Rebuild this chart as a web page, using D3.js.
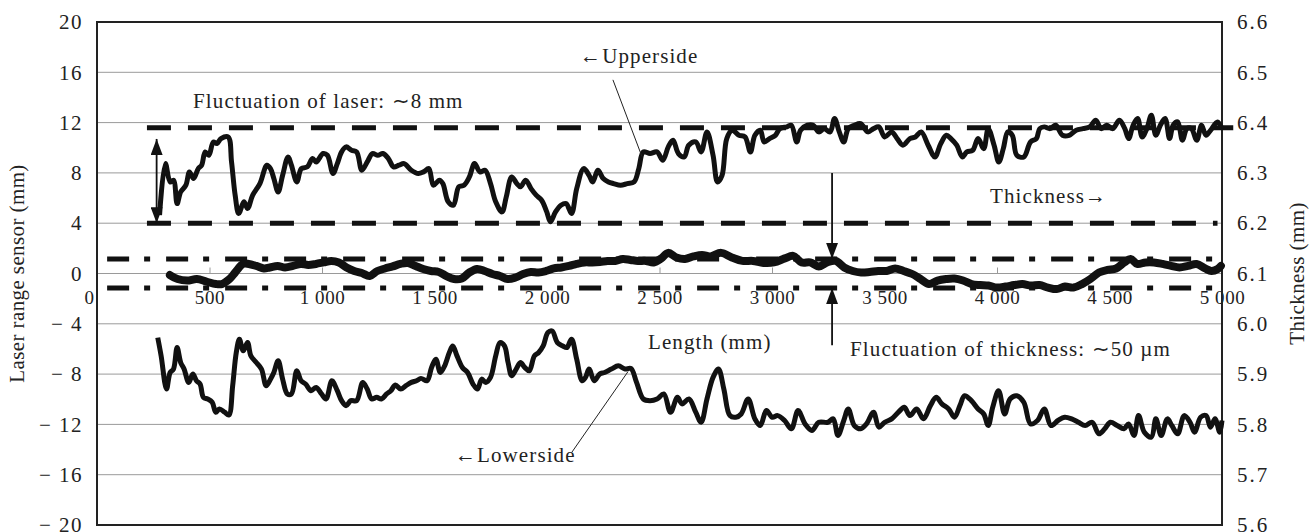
<!DOCTYPE html>
<html>
<head>
<meta charset="utf-8">
<script src="https://cdn.jsdelivr.net/npm/d3@7"></script>
<style>
body { margin: 0; background: #fff; }
text { font-family: "Liberation Serif", "Times New Roman", serif; fill: #222; }
</style>
</head>
<body>
<svg id="chart"></svg>
<script>
// length (mm) and laser reading (mm) of the upper sensor
var upperLength = [278,304,325,340,356,372,395,411,429,450,465,481,497,517,533,551,583,598,614,630,653,669,692,724,755,771,786,805,825,849,864,888,908,935,958,974,1005,1024,1049,1068,1087,1107,1131,1154,1177,1201,1224,1248,1271,1295,1318,1342,1365,1397,1428,1451,1475,1495,1522,1537,1561,1584,1608,1631,1655,1678,1702,1725,1749,1772,1800,1819,1843,1866,1882,1905,1929,1952,1976,1999,2015,2038,2062,2085,2109,2132,2163,2187,2203,2226,2250,2273,2296,2327,2357,2387,2408,2428,2458,2489,2515,2539,2560,2584,2610,2630,2661,2685,2711,2738,2758,2778,2799,2823,2853,2880,2904,2924,2948,2965,2989,3015,3035,3066,3086,3110,3127,3157,3183,3208,3232,3258,3278,3299,3319,3339,3366,3394,3426,3451,3475,3501,3532,3556,3582,3613,3637,3663,3694,3724,3750,3775,3795,3821,3846,3866,3892,3916,3941,3961,3987,4008,4028,4048,4068,4088,4119,4149,4175,4190,4210,4236,4261,4291,4321,4352,4382,4412,4439,4463,4487,4514,4544,4568,4585,4605,4625,4645,4666,4686,4706,4726,4747,4767,4783,4803,4824,4844,4864,4888,4909,4929,4949,4980,5000];
var upperValue = [4.64,8.74,7.28,7.42,5.56,6.49,7.02,8.08,7.55,8.34,8.61,9.67,9.40,10.46,10.33,10.73,10.86,8.87,6.23,4.77,5.70,5.17,6.23,7.15,8.61,8.34,7.55,6.49,7.81,9.27,8.61,7.28,8.34,8.48,9.14,8.87,9.54,9.40,7.95,8.74,9.67,10.07,9.80,9.67,8.21,8.87,9.54,9.40,9.54,9.14,8.48,8.61,8.74,8.21,7.95,8.08,8.34,7.02,7.42,7.15,5.70,5.43,6.89,7.02,7.68,8.74,8.08,8.21,7.15,5.70,4.90,6.09,7.68,7.15,6.89,7.42,6.75,6.23,5.83,4.90,4.11,4.90,5.43,5.56,4.77,6.75,8.34,7.81,7.28,8.21,7.55,7.28,7.15,7.02,7.15,7.28,8.34,9.67,9.54,9.67,9.01,10.07,10.60,9.54,9.27,10.20,10.46,9.67,11.26,9.40,7.28,7.81,10.73,11.39,10.99,10.86,9.67,10.99,11.39,10.46,10.73,10.99,11.52,11.66,11.79,10.46,11.39,11.79,11.79,11.26,11.52,11.26,12.32,11.26,10.46,11.52,11.79,11.92,11.26,11.52,11.66,10.86,11.26,10.73,10.20,10.73,10.86,11.26,10.20,9.27,10.33,10.99,10.73,10.20,9.27,9.67,9.80,10.73,9.93,11.52,10.20,8.87,9.93,11.26,10.99,9.40,9.27,10.46,10.73,11.52,11.66,11.52,11.79,10.99,10.99,11.39,11.52,11.66,12.19,11.52,11.79,11.52,12.19,11.52,10.73,11.79,12.32,10.86,11.52,12.58,10.99,11.79,12.32,10.73,11.79,12.05,10.60,11.52,11.52,10.60,11.79,10.99,11.39,12.05,11.52];

// length (mm) and laser reading (mm) of the lower sensor
var lowerLength = [270,285,309,325,340,356,372,387,408,426,442,458,473,492,512,528,544,567,586,603,619,633,650,669,684,708,731,752,771,786,805,825,846,864,888,907,927,951,974,998,1018,1044,1068,1087,1107,1128,1154,1181,1201,1221,1243,1264,1287,1306,1326,1350,1373,1397,1420,1440,1467,1487,1506,1526,1545,1566,1581,1600,1624,1647,1671,1691,1710,1728,1749,1772,1791,1811,1827,1843,1863,1882,1901,1921,1944,1963,1983,2004,2023,2046,2070,2088,2109,2132,2156,2171,2187,2210,2234,2256,2286,2317,2347,2373,2398,2428,2458,2489,2519,2549,2580,2600,2631,2661,2685,2711,2738,2762,2786,2813,2839,2863,2894,2924,2948,2975,3001,3025,3056,3086,3116,3147,3177,3208,3248,3272,3293,3319,3339,3366,3394,3420,3451,3475,3501,3532,3562,3588,3613,3643,3673,3704,3730,3755,3785,3811,3835,3856,3886,3916,3941,3961,3981,4007,4034,4058,4088,4119,4149,4180,4210,4240,4271,4301,4332,4362,4392,4423,4453,4479,4504,4534,4564,4585,4609,4629,4655,4686,4706,4730,4757,4777,4803,4832,4858,4878,4905,4929,4949,4969,4990,5000];
var lowerValue = [-5.10,-6.55,-9.19,-7.87,-7.60,-5.89,-7.08,-7.60,-8.66,-8.00,-8.53,-8.79,-9.85,-9.98,-10.24,-11.03,-10.77,-11.03,-11.25,-8.92,-6.28,-5.23,-6.15,-5.49,-6.55,-7.08,-7.60,-8.92,-8.40,-7.87,-6.94,-8.40,-9.58,-9.58,-7.74,-8.53,-8.79,-9.32,-9.06,-9.58,-9.98,-8.53,-9.32,-10.11,-10.51,-10.11,-10.11,-8.66,-9.19,-9.98,-9.85,-9.98,-9.58,-9.32,-8.87,-9.19,-8.92,-8.66,-8.53,-8.34,-8.53,-7.47,-6.81,-7.87,-7.34,-6.28,-5.76,-6.55,-7.47,-7.87,-8.79,-9.19,-8.40,-8.66,-8.26,-6.55,-5.49,-5.76,-7.08,-8.13,-7.60,-7.08,-7.47,-7.74,-6.55,-6.28,-5.76,-4.70,-4.57,-5.49,-5.76,-5.89,-5.23,-6.81,-8.53,-8.26,-7.60,-8.53,-8.00,-7.87,-7.60,-7.34,-7.60,-7.55,-8.66,-9.98,-10.11,-9.98,-9.58,-11.03,-9.85,-10.37,-9.98,-11.03,-11.83,-9.98,-8.26,-7.60,-9.19,-11.30,-11.43,-11.17,-9.98,-11.56,-12.09,-10.90,-11.43,-11.30,-11.69,-12.35,-10.90,-11.96,-12.48,-11.83,-11.83,-11.56,-12.88,-11.69,-10.77,-12.09,-12.35,-11.96,-11.03,-12.22,-11.83,-11.56,-11.03,-10.64,-11.30,-10.77,-11.56,-10.51,-9.85,-10.37,-10.77,-11.43,-10.51,-9.72,-10.11,-10.77,-11.17,-12.09,-10.64,-9.32,-11.17,-9.98,-9.72,-10.24,-11.96,-11.69,-10.77,-12.09,-11.69,-11.43,-11.56,-11.83,-12.09,-11.83,-12.75,-12.35,-11.83,-12.09,-12.35,-11.96,-12.88,-11.30,-12.62,-13.01,-11.56,-12.88,-11.56,-12.09,-12.75,-11.30,-11.83,-12.62,-11.43,-11.30,-12.22,-11.56,-12.62,-11.69];

// length (mm) and plate thickness (mm), right axis
var thickLength = [324,358,401,444,486,529,555,589,614,649,674,708,742,768,803,836,871,905,939,973,1007,1041,1075,1109,1143,1177,1212,1246,1280,1314,1348,1382,1416,1450,1484,1519,1553,1587,1621,1655,1689,1723,1757,1791,1825,1860,1894,1928,1962,1996,2030,2064,2098,2132,2166,2201,2235,2269,2303,2337,2371,2405,2440,2474,2508,2538,2575,2613,2651,2689,2726,2774,2821,2868,2915,2962,3009,3057,3094,3132,3170,3208,3245,3283,3321,3359,3396,3434,3472,3509,3547,3585,3623,3660,3698,3736,3774,3811,3849,3887,3925,3962,4000,4038,4076,4113,4151,4189,4227,4265,4302,4340,4378,4415,4453,4491,4529,4566,4594,4623,4660,4698,4736,4774,4811,4849,4887,4925,4953,4981,4995];
var thickValue = [6.097,6.089,6.086,6.089,6.084,6.079,6.079,6.089,6.102,6.119,6.119,6.115,6.110,6.112,6.115,6.112,6.115,6.119,6.117,6.119,6.122,6.125,6.122,6.112,6.105,6.101,6.095,6.105,6.110,6.114,6.119,6.121,6.115,6.109,6.105,6.103,6.095,6.089,6.090,6.102,6.109,6.105,6.099,6.095,6.089,6.092,6.099,6.103,6.102,6.105,6.110,6.112,6.115,6.119,6.122,6.122,6.123,6.125,6.125,6.129,6.127,6.125,6.125,6.122,6.130,6.141,6.132,6.129,6.134,6.137,6.134,6.141,6.132,6.125,6.125,6.121,6.122,6.130,6.135,6.122,6.122,6.114,6.122,6.125,6.112,6.105,6.102,6.103,6.105,6.105,6.110,6.105,6.099,6.089,6.079,6.086,6.089,6.090,6.086,6.079,6.077,6.076,6.072,6.074,6.077,6.079,6.076,6.077,6.072,6.069,6.074,6.072,6.079,6.089,6.102,6.107,6.110,6.122,6.129,6.119,6.122,6.122,6.119,6.115,6.112,6.115,6.119,6.110,6.105,6.109,6.115];

// fluctuation bands
var laserBounds = [11.6, 4.0];          // left axis, mm
var thickBounds = [6.129, 6.071];       // right axis, mm

var leftTicks = [20, 16, 12, 8, 4, 0, -4, -8, -12, -16, -20];
var rightTicks = [6.6, 6.5, 6.4, 6.3, 6.2, 6.1, 6.0, 5.9, 5.8, 5.7, 5.6];
var lengthTicks = [0, 500, 1000, 1500, 2000, 2500, 3000, 3500, 4000, 4500, 5000];

var width = 1314, height = 532;
var margin = {top: 22, right: 92, bottom: 7, left: 97};

var svg = d3.select('#chart')
    .attr('width', width)
    .attr('height', height);

var x = d3.scaleLinear().domain([0, 5000]).range([margin.left, width - margin.right]);
var yL = d3.scaleLinear().domain([-20, 20]).range([height - margin.bottom, margin.top]);
var yR = d3.scaleLinear().domain([5.6, 6.6]).range([height - margin.bottom, margin.top]);

// grid
svg.append('g').selectAll('line')
    .data(leftTicks.filter(function(d) { return Math.abs(d) < 20; }))
    .enter().append('line')
    .attr('x1', x(0)).attr('x2', x(5000))
    .attr('y1', function(d) { return yL(d); })
    .attr('y2', function(d) { return yL(d); })
    .attr('stroke', '#9a9a9a')
    .attr('stroke-width', 1);

// left axis
var fmtLeft = function(d) { return d < 0 ? '\u2212 ' + Math.abs(d) : String(d); };
svg.append('g')
    .attr('transform', 'translate(' + x(0) + ',0)')
    .call(d3.axisLeft(yL).tickValues(leftTicks).tickFormat(fmtLeft).tickSize(0).tickPadding(14))
    .call(function(g) { g.select('.domain').remove(); })
    .selectAll('text').style('font-size', '21px').style('letter-spacing', '1.5px').attr('fill', '#222');

// right axis
svg.append('g')
    .attr('transform', 'translate(' + x(5000) + ',0)')
    .call(d3.axisRight(yR).tickValues(rightTicks).tickFormat(d3.format('.1f')).tickSize(0).tickPadding(15))
    .call(function(g) { g.select('.domain').remove(); })
    .selectAll('text').style('font-size', '21px').style('letter-spacing', '2px').attr('fill', '#222');

// x axis on the zero line
var fmtLen = function(d) { return d >= 1000 ? d3.format(',')(d).replace(',', ' ') : String(d); };
var xAxis = svg.append('g')
    .attr('transform', 'translate(0,' + yL(0) + ')')
    .call(d3.axisBottom(x).tickValues(lengthTicks).tickFormat(fmtLen).tickSizeInner(-6).tickSizeOuter(0).tickPadding(17));
xAxis.select('.domain').remove();
xAxis.selectAll('line').attr('stroke', '#9a9a9a');
xAxis.selectAll('text').style('font-size', '19px').style('letter-spacing', '0.6px').attr('fill', '#222');
xAxis.selectAll('.tick').filter(function(d) { return d === 0; })
    .select('text').attr('text-anchor', 'end').attr('dx', '-3');

// border
svg.append('rect')
    .attr('x', x(0)).attr('y', yL(20))
    .attr('width', x(5000) - x(0)).attr('height', yL(-20) - yL(20))
    .attr('fill', 'none').attr('stroke', '#222').attr('stroke-width', 2);

// fluctuation bands
svg.append('g').selectAll('line')
    .data(laserBounds)
    .enter().append('line')
    .attr('x1', x(222))
    .attr('x2', function(d, i) { return i === 0 ? x(5050) : x(4980); })
    .attr('y1', function(d) { return yL(d); })
    .attr('y2', function(d) { return yL(d); })
    .attr('stroke', '#111').attr('stroke-width', 5)
    .attr('stroke-dasharray', '24,17');

svg.append('g').selectAll('line')
    .data(thickBounds)
    .enter().append('line')
    .attr('x1', x(45)).attr('x2', x(4975))
    .attr('y1', function(d) { return yR(d); })
    .attr('y2', function(d) { return yR(d); })
    .attr('stroke', '#111').attr('stroke-width', 5)
    .attr('stroke-dasharray', '22,15,6,16');

// series
var lineL = d3.line().x(function(d) { return x(d[0]); }).y(function(d) { return yL(d[1]); }).curve(d3.curveCatmullRom);
var lineR = d3.line().x(function(d) { return x(d[0]); }).y(function(d) { return yR(d[1]); }).curve(d3.curveCatmullRom);

svg.append('path').datum(d3.zip(upperLength, upperValue))
    .attr('d', lineL).attr('fill', 'none').attr('stroke', '#111')
    .attr('stroke-width', 5).attr('stroke-linejoin', 'round');
svg.append('path').datum(d3.zip(lowerLength, lowerValue))
    .attr('d', lineL).attr('fill', 'none').attr('stroke', '#111')
    .attr('stroke-width', 5).attr('stroke-linejoin', 'round');
svg.append('path').datum(d3.zip(thickLength, thickValue))
    .attr('d', lineR).attr('fill', 'none').attr('stroke', '#111')
    .attr('stroke-width', 8).attr('stroke-linejoin', 'round').attr('stroke-linecap', 'round');

// arrow heads
var defs = svg.append('defs');
defs.append('marker').attr('id', 'head')
    .attr('viewBox', '0 0 16 12').attr('refX', 16).attr('refY', 6)
    .attr('markerWidth', 16).attr('markerHeight', 12).attr('markerUnits', 'userSpaceOnUse')
    .attr('orient', 'auto-start-reverse')
    .append('path').attr('d', 'M0,0L16,6L0,12Z').attr('fill', '#111');

// double arrow for laser fluctuation
svg.append('line')
    .attr('x1', x(265)).attr('x2', x(265))
    .attr('y1', yL(10.7)).attr('y2', yL(4.0))
    .attr('stroke', '#111').attr('stroke-width', 1.8)
    .attr('marker-start', 'url(#head)').attr('marker-end', 'url(#head)');

// arrows for thickness fluctuation
svg.append('line')
    .attr('x1', x(3267)).attr('x2', x(3267))
    .attr('y1', yL(8)).attr('y2', yR(thickBounds[0]))
    .attr('stroke', '#111').attr('stroke-width', 1.8)
    .attr('marker-end', 'url(#head)');
svg.append('line')
    .attr('x1', x(3267)).attr('x2', x(3267))
    .attr('y1', yL(-5.7)).attr('y2', yR(thickBounds[1]))
    .attr('stroke', '#111').attr('stroke-width', 1.8)
    .attr('marker-end', 'url(#head)');

// leader lines
svg.append('line')
    .attr('x1', x(2293)).attr('y1', yL(15.4))
    .attr('x2', x(2422)).attr('y2', yL(9.3))
    .attr('stroke', '#222').attr('stroke-width', 1);
svg.append('line')
    .attr('x1', x(2111)).attr('y1', yL(-14.2))
    .attr('x2', x(2360)).attr('y2', yL(-7.8))
    .attr('stroke', '#222').attr('stroke-width', 1);

// labels
function label(txt, px, py) {
    svg.append('text').attr('x', px).attr('y', py)
        .style('font-size', '21px')
        .style('letter-spacing', '1.1px')
        .text(txt);
}
label('Fluctuation of laser: \u223C8 mm', x(427), yL(13.2));
label('\u2190Upperside', x(2147), yL(16.7));
label('Thickness\u2192', x(3969), yL(5.6));
label('Length (mm)', x(2449), yL(-6.0));
label('Fluctuation of thickness: \u223C50 \u00B5m', x(3347), yL(-6.6));
label('\u2190Lowerside', x(1591), yL(-15.0));

// axis titles
svg.append('text')
    .attr('transform', 'translate(24,' + yL(0) + ') rotate(-90)')
    .attr('text-anchor', 'middle')
    .style('font-size', '21px')
    .style('letter-spacing', '0.4px')
    .text('Laser range sensor (mm)');
svg.append('text')
    .attr('transform', 'translate(1304,' + yL(0) + ') rotate(-90)')
    .attr('text-anchor', 'middle')
    .style('font-size', '21px')
    .style('letter-spacing', '0.4px')
    .text('Thickness (mm)');
</script>
</body>
</html>
